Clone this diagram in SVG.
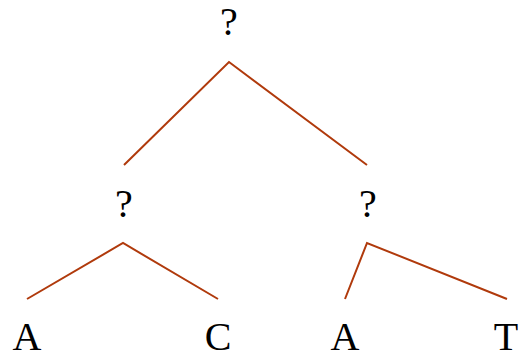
<svg xmlns="http://www.w3.org/2000/svg" width="520" height="355" viewBox="0 0 520 355">
<style>
.lbl{font-family:"Liberation Serif","Times New Roman",serif;font-size:40px;fill:#000;text-anchor:middle}
.edge{stroke:#b03a0c;stroke-width:2;fill:none;stroke-linecap:butt}
</style>
<rect width="520" height="355" fill="#fff"/>
<g id="connectors">
<polyline class="edge" points="124,165 229,62 367,165"/>
<polyline class="edge" points="27,299 123,243 218,299"/>
<polyline class="edge" points="345,299 367,243 507,299"/>
</g>
<g id="root"><text class="lbl" x="229" y="35">?</text></g>
<g id="left"><text class="lbl" x="124" y="217">?</text></g>
<g id="right"><text class="lbl" x="368" y="217">?</text></g>
<g id="leafA1"><text class="lbl" x="27" y="350">A</text></g>
<g id="leafC"><text class="lbl" x="218" y="350">C</text></g>
<g id="leafA2"><text class="lbl" x="345" y="350">A</text></g>
<g id="leafT"><text class="lbl" x="506" y="350">T</text></g>
</svg>
